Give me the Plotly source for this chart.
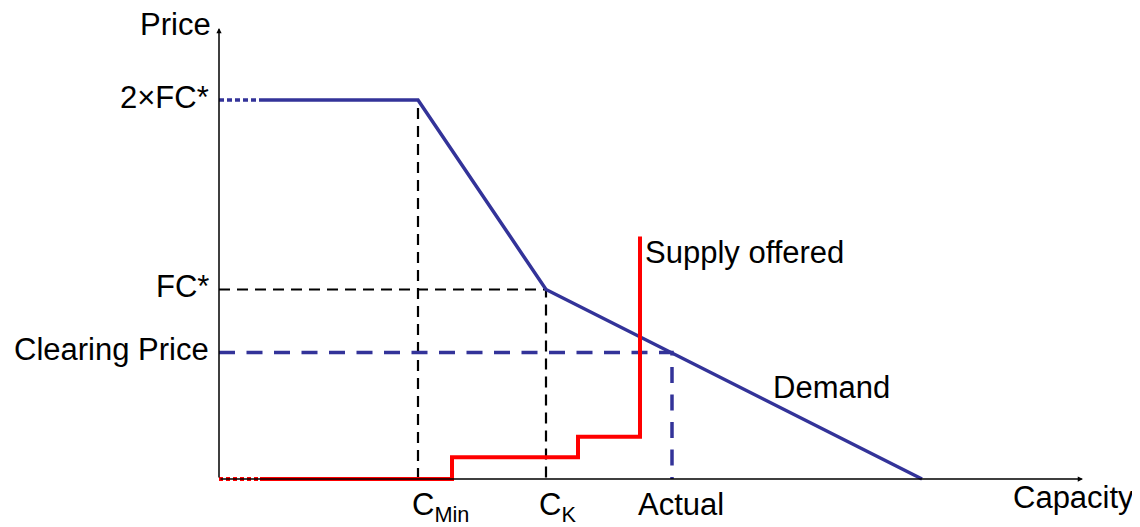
import plotly.graph_objects as go

# ---- data (x in capacity units, y in price units where FC* = 1) ----
price_ticks = ["2×FC*", "FC*", "Clearing Price"]
price_vals = [2.0, 1.0, 0.667]
cap_labels = ["C<sub>Min</sub>", "C<sub>K</sub>", "Actual"]
cap_vals = [1.99, 3.27, 4.53]

demand_x = [0.41, 1.99, 3.27, 7.03]
demand_y = [2.0, 2.0, 1.0, 0.0]
demand_dot_x = [0.0, 0.41]
demand_dot_y = [2.0, 2.0]

supply_x = [0.41, 2.33, 2.33, 3.59, 3.59, 4.21, 4.21]
supply_y = [0.0, 0.0, 0.115, 0.115, 0.223, 0.223, 1.28]
supply_dot_x = [0.0, 0.41]
supply_dot_y = [0.0, 0.0]

x_axis_end = 8.64
y_axis_end = 2.38

BLUE = "rgb(51,51,153)"
RED = "rgb(255,0,0)"
FONT = "Liberation Sans, Arial, sans-serif"
FS = 31

fig = go.Figure()

# guide lines
fig.add_trace(go.Scatter(x=[cap_vals[0], cap_vals[0]], y=[0, price_vals[0]], mode="lines",
                         line=dict(color="black", width=2.2, dash="11px,7px")))
fig.add_trace(go.Scatter(x=[0, cap_vals[1], cap_vals[1]], y=[price_vals[1], price_vals[1], 0], mode="lines",
                         line=dict(color="black", width=2.2, dash="11px,7px")))
fig.add_trace(go.Scatter(x=[0, cap_vals[2], cap_vals[2]], y=[price_vals[2], price_vals[2], 0], mode="lines",
                         line=dict(color=BLUE, width=3.5, dash="16px,11.5px")))

# demand
fig.add_trace(go.Scatter(x=demand_dot_x, y=demand_dot_y, mode="lines",
                         line=dict(color=BLUE, width=3.5, dash="5px,3px")))
fig.add_trace(go.Scatter(x=demand_x, y=demand_y, mode="lines",
                         line=dict(color=BLUE, width=3.5)))

# supply
fig.add_trace(go.Scatter(x=supply_dot_x, y=supply_dot_y, mode="lines",
                         line=dict(color=RED, width=4, dash="4px,3px")))
fig.add_trace(go.Scatter(x=supply_x, y=supply_y, mode="lines",
                         line=dict(color=RED, width=4)))

ann = []
# axes with arrows
ann.append(dict(x=x_axis_end, y=0, ax=0, ay=0, xref="x", yref="y", axref="x", ayref="y",
                showarrow=True, arrowhead=2, arrowsize=0.7, arrowwidth=1.5, arrowcolor="black", text=""))
ann.append(dict(x=0, y=y_axis_end, ax=0, ay=0, xref="x", yref="y", axref="x", ayref="y",
                showarrow=True, arrowhead=2, arrowsize=0.7, arrowwidth=1.5, arrowcolor="black", text=""))

# price labels
for t, v in zip(price_ticks, price_vals):
    ann.append(dict(x=0, y=v, text=t, xanchor="right", yanchor="middle", xshift=-8, yshift=3,
                    showarrow=False))
ann.append(dict(x=0, y=y_axis_end, text="Price", xanchor="right", yanchor="middle", xshift=-6, yshift=3,
                showarrow=False))

# capacity labels
shifts = [-8, -9, -36]
for t, v, s in zip(cap_labels, cap_vals, shifts):
    ann.append(dict(x=v, y=0, text=t, xanchor="left", yanchor="top", xshift=s, yshift=-6,
                    showarrow=False))
ann.append(dict(x=x_axis_end, y=0, text="Capacity", xanchor="left", yanchor="top", xshift=-72, yshift=1,
                showarrow=False))

ann.append(dict(x=supply_x[-1], y=supply_y[-1], text="Supply offered", xanchor="left", yanchor="top",
                xshift=3, yshift=3, showarrow=False))
ann.append(dict(x=5.52, y=0.485, text="Demand", xanchor="left", yanchor="middle", showarrow=False))

for a in ann:
    a["font"] = dict(family=FONT, size=FS, color="black")

# the page body has an 8px margin; the figure is sized to fill the rest of the window
fig.update_layout(
    width=1132, height=519, autosize=False,
    margin=dict(l=0, r=0, t=0, b=0),
    paper_bgcolor="white", plot_bgcolor="white",
    showlegend=False,
    annotations=ann,
    xaxis=dict(range=[-2.11, 9.21], visible=False, fixedrange=True),
    yaxis=dict(range=[-0.2533, 2.4855], visible=False, fixedrange=True),
)

fig.write_html("out.html")
